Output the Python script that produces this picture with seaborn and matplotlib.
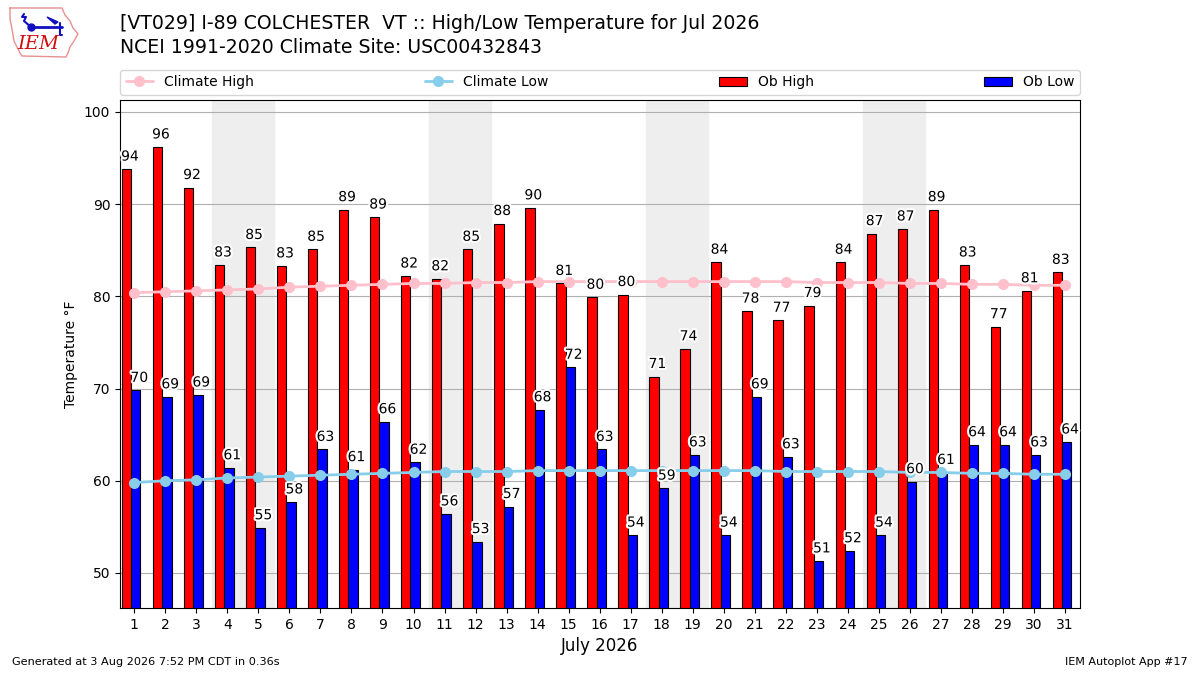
#!/usr/bin/env python3
"""High/Low temperature chart for VT029 I-89 Colchester, July 2026."""
import numpy as np
import pandas as pd
import matplotlib
matplotlib.use("Agg")
import matplotlib.pyplot as plt
import matplotlib.patheffects as pe
import seaborn as sns

sns.set_style("ticks")
plt.rcParams["font.family"] = ["DejaVu Sans"]
plt.rcParams["axes.edgecolor"] = "black"
plt.rcParams["text.color"] = "black"
plt.rcParams["xtick.color"] = "black"
plt.rcParams["ytick.color"] = "black"
plt.rcParams["axes.labelcolor"] = "black"

days = list(range(1, 32))
ob_high = [93.8, 96.2, 91.8, 83.4, 85.3, 83.3, 85.1, 89.4, 88.6, 82.2,
           81.9, 85.1, 87.9, 89.6, 81.4, 79.9, 80.2, 71.3, 74.3, 83.7,
           78.4, 77.4, 79.0, 83.7, 86.8, 87.3, 89.4, 83.4, 76.7, 80.6, 82.6]
ob_low = [69.8, 69.1, 69.3, 61.4, 54.9, 57.7, 63.4, 61.2, 66.4, 62.0,
          56.4, 53.4, 57.2, 67.7, 72.3, 63.4, 54.1, 59.2, 62.8, 54.1,
          69.1, 62.6, 51.3, 52.4, 54.1, 59.9, 60.9, 63.9, 63.9, 62.8, 64.2]
clim_high = [80.4, 80.5, 80.6, 80.7, 80.8, 81.0, 81.1, 81.2, 81.3, 81.4,
             81.4, 81.5, 81.5, 81.6, 81.6, 81.6, 81.6, 81.6, 81.6, 81.6,
             81.6, 81.6, 81.5, 81.5, 81.5, 81.4, 81.4, 81.3, 81.3, 81.2, 81.2]
clim_low = [59.8, 60.0, 60.1, 60.3, 60.4, 60.5, 60.6, 60.7, 60.8, 60.9,
            61.0, 61.0, 61.0, 61.1, 61.1, 61.1, 61.1, 61.1, 61.1, 61.1,
            61.1, 61.0, 61.0, 61.0, 61.0, 60.9, 60.9, 60.8, 60.8, 60.7, 60.7]
weekends = [4, 11, 18, 25]

df = pd.DataFrame({"day": days, "ob_high": ob_high, "ob_low": ob_low,
                   "clim_high": clim_high, "clim_low": clim_low})

fig = plt.figure(figsize=(12, 6.75), dpi=100)
ax = fig.add_axes([0.1, 0.0993, 0.8, 0.7526])

for d in weekends:
    ax.axvspan(d - 0.5, d + 1.5, color="#eeeeee", zorder=0)

ax.set_axisbelow(True)
ax.grid(axis="y", color="#b0b0b0", linewidth=0.8)

x = np.array(days)
ax.bar(x - 0.4, df["ob_high"], width=0.3, align="edge", color="red",
       edgecolor="black", linewidth=0.8, label="Ob High", zorder=2)
ax.bar(x - 0.1, df["ob_low"], width=0.3, align="edge", color="blue",
       edgecolor="black", linewidth=0.8, label="Ob Low", zorder=2)

sns.lineplot(data=df, x="day", y="clim_high", ax=ax, color="pink",
             marker="o", markersize=8, markeredgewidth=0, linewidth=2,
             label="Climate High", zorder=3)
sns.lineplot(data=df, x="day", y="clim_low", ax=ax, color="skyblue",
             marker="o", markersize=8, markeredgewidth=0, linewidth=2,
             label="Climate Low", zorder=3)

halo = [pe.withStroke(linewidth=3, foreground="white")]
for d, hi, lo in zip(days, ob_high, ob_low):
    ax.text(d - 0.14, hi + 0.6, f"{hi:.0f}", ha="center", va="bottom",
            fontsize=10, path_effects=halo, zorder=4)
    ax.text(d + 0.16, lo + 0.6, f"{lo:.0f}", ha="center", va="bottom",
            fontsize=10, path_effects=halo, zorder=4)

ax.set_xlim(0.54, 31.48)
ax.set_ylim(46.2, 101.3)
ax.set_xticks(days)
ax.set_yticks([50, 60, 70, 80, 90, 100])
ax.set_xlabel("July 2026", fontsize=12)
ax.set_ylabel("Temperature °F")
for s in ax.spines.values():
    s.set_visible(True)
    s.set_color("black")

handles, labels = ax.get_legend_handles_labels()
order = [labels.index(n) for n in ["Climate High", "Climate Low", "Ob High", "Ob Low"]]
ax.legend([handles[i] for i in order], [labels[i] for i in order],
          ncol=4, mode="expand", loc="lower left",
          bbox_to_anchor=(0, 1.01, 1, 0.05), borderaxespad=0, fontsize=10)

fig.text(0.1, 0.965, "[VT029] I-89 COLCHESTER  VT :: High/Low Temperature for Jul 2026",
         fontsize=13.6, va="center")
fig.text(0.1, 0.929, "NCEI 1991-2020 Climate Site: USC00432843",
         fontsize=13.6, va="center")
fig.text(0.01, 0.015, "Generated at 3 Aug 2026 7:52 PM CDT in 0.36s", fontsize=8.1)
fig.text(0.99, 0.015, "IEM Autoplot App #17", fontsize=8, ha="right")

# rough IEM logo, drawn in pixel-like coordinates
logo = fig.add_axes([5 / 1200, 1 - 62 / 675, 78 / 1200, 60 / 675])
ox = [10, 62, 65, 70, 73, 78, 74, 70, 68, 66, 22, 20, 14, 12, 10, 10]
oy = [7, 7, 14, 20, 27, 33, 40, 46, 52, 56, 55, 52, 40, 28, 18, 7]
logo.plot(ox, oy, color="#e89090", linewidth=1)
logo.plot([31, 62], [26, 26], color="#1010c0", linewidth=2)
logo.plot(31, 26, "o", color="#1010c0", markersize=5)
logo.plot([24, 22, 26, 24, 31], [13, 16, 16, 20, 26], color="#1010c0", linewidth=1.5)
logo.fill([47, 58, 55], [16, 21, 23], color="#1010c0")
logo.plot([60, 60, 62], [22, 34, 34], color="#1010c0", linewidth=1.5)
logo.text(38, 43, "IEM", color="#d01010", fontsize=14, style="italic",
          family="DejaVu Serif", ha="center", va="center")
logo.set_xlim(5, 83)
logo.set_ylim(61, 1)
logo.axis("off")

plt.savefig("out.png", dpi=100)
